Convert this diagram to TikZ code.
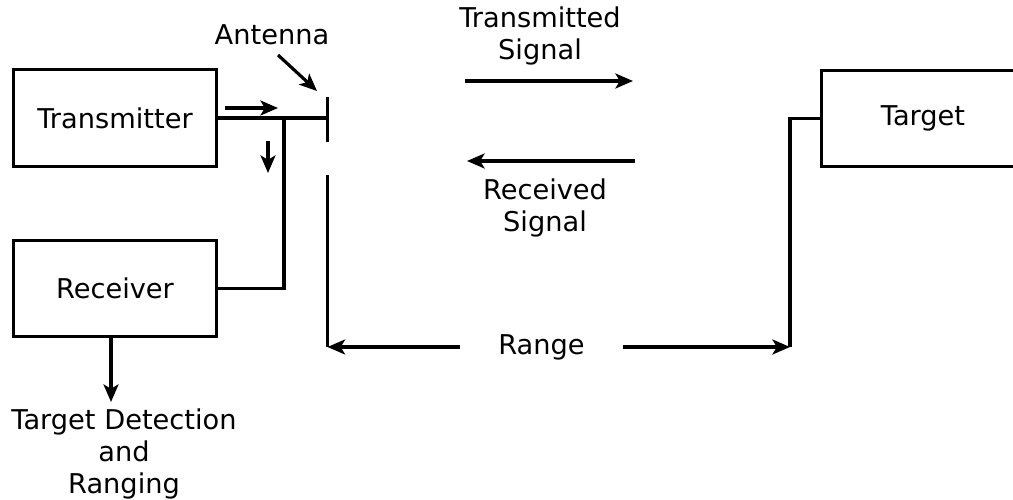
\documentclass[tikz,border=0pt]{standalone}
\usepackage{fontspec}
\setmainfont{DejaVu Sans}
\usetikzlibrary{arrows.meta,positioning}

\begin{document}
\begin{tikzpicture}[>={Stealth[length=10pt,width=8.5pt,inset=2.5pt]}, line width=1.8pt,
    every node/.style={font=\fontsize{15.5}{18.2}\selectfont},
    block/.style={draw, minimum width=4.06cm, minimum height=1.93cm, inner sep=0pt}]
    \clip (0,0) rectangle (20.26,9.98);

    % Blocks
    \node[block] (tx) at (2.30,7.62) {Transmitter};
    \node[block] (rx) at (2.30,4.21) {Receiver};
    \node[block] (target) at (18.46,7.61) {Target};

    % Antenna and feed line
    \coordinate (anttop) at (6.55,8.04);
    \coordinate (antmid) at (6.55,7.62);
    \coordinate (antbot) at (6.55,7.14);
    \coordinate (feed) at (5.68,7.62);
    \draw (anttop) -- (antbot);
    \draw (tx.east) -- (antmid);
    \draw (feed) |- (rx.east);

    % Antenna label
    \node (antlabel) at (5.44,9.28) {Antenna};
    \coordinate (antfrom) at (5.56,8.88);
    \coordinate (antto) at (6.34,8.16);
    \draw[->] (antfrom) -- (antto);

    % Flow indicators
    \coordinate (flowa) at (4.50,7.82);
    \coordinate (flowb) at (5.56,7.82);
    \draw[->] (flowa) -- (flowb);
    \coordinate (flowc) at (5.36,7.16);
    \coordinate (flowd) at (5.36,6.52);
    \draw[->] (flowc) -- (flowd);

    % Signals
    \node[align=center] (txsig) at (10.80,9.26) {Transmitted\\Signal};
    \coordinate (txa) at (9.30,8.36);
    \coordinate (txb) at (12.66,8.36);
    \draw[->] (txa) -- (txb);
    \node[align=center] (rxsig) at (10.90,5.82) {Received\\Signal};
    \coordinate (rxa) at (12.70,6.76);
    \coordinate (rxb) at (9.34,6.76);
    \draw[->] (rxa) -- (rxb);

    % Range
    \coordinate (antlow) at (6.55,6.48);
    \coordinate (antfoot) at (6.55,3.04);
    \coordinate (tgtfoot) at (15.80,3.04);
    \draw (antlow) -- (antfoot);
    \draw (target.west) -| (tgtfoot);
    \node[inner xsep=0.74cm] (range) at (10.83,3.04) {Range};
    \draw[->] (range.west) -- (antfoot);
    \draw[->] (range.east) -- (tgtfoot);

    % Output
    \coordinate (out) at (2.22,1.94);
    \draw[->] (rx.south -| out) -- (out);
    \node[align=center] (outlabel) at (2.48,0.91) {Target Detection\\and\\Ranging};
\end{tikzpicture}
\end{document}
